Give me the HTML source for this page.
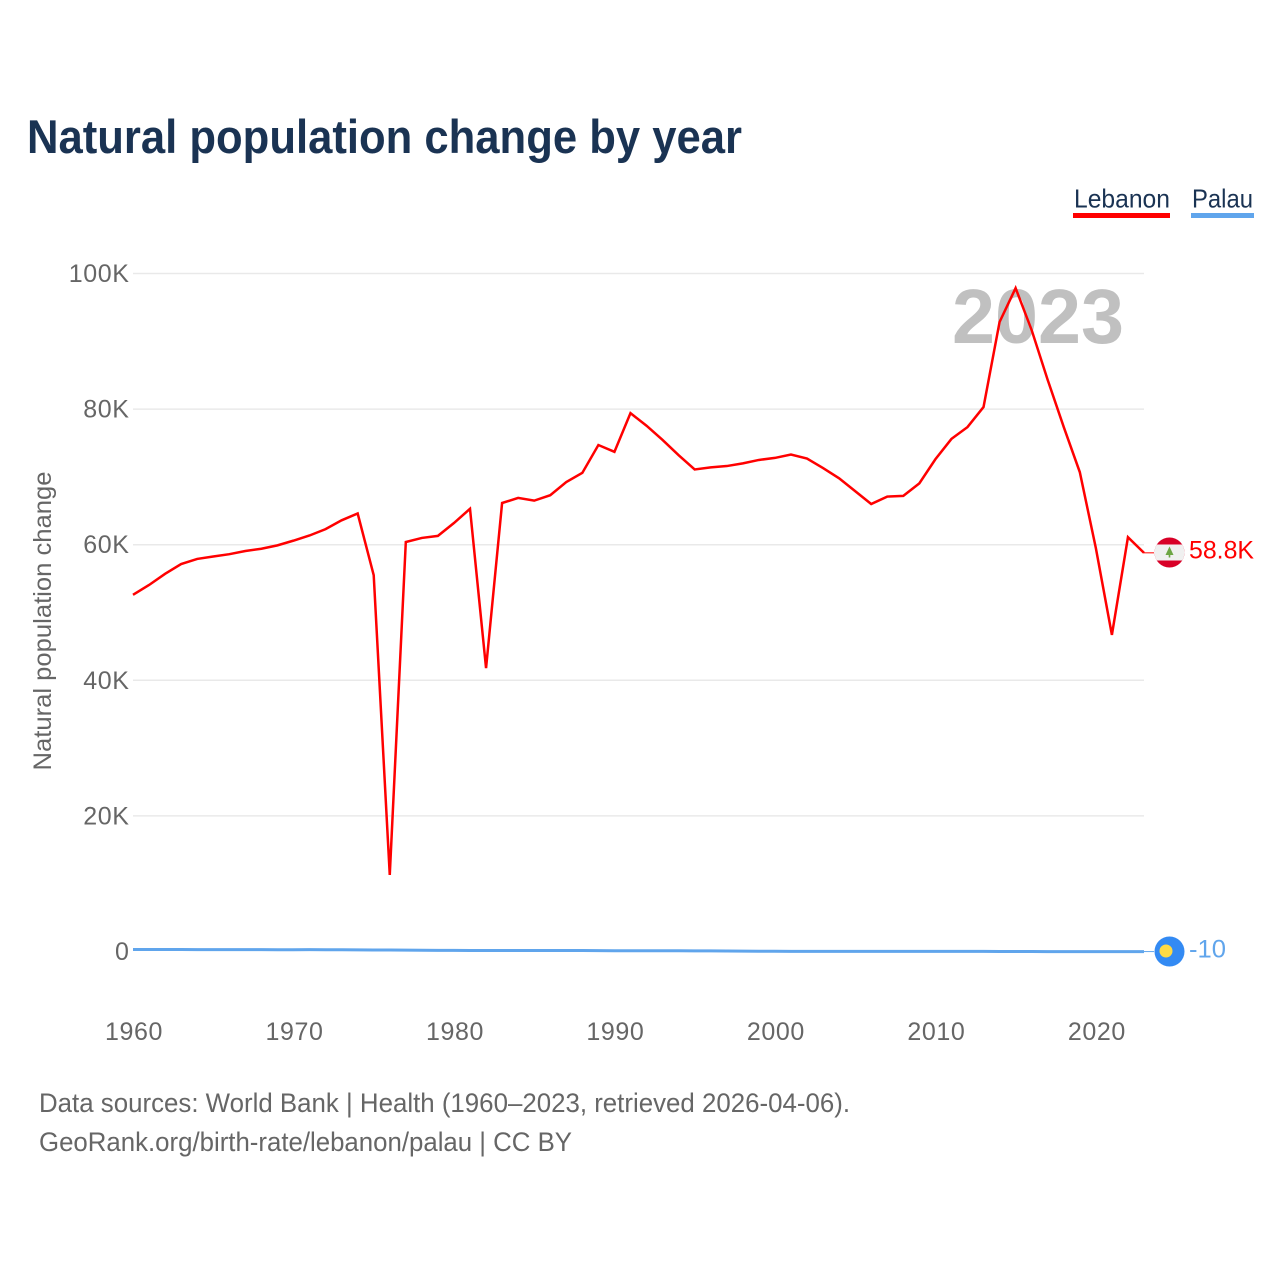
<!DOCTYPE html>
<html lang="en">
<head>
<meta charset="utf-8">
<title>Natural population change by year</title>
<style>
html,body{margin:0;padding:0;background:#fff;width:1280px;height:1280px;overflow:hidden}
svg{display:block}
text{font-family:"Liberation Sans",sans-serif}
</style>
</head>
<body>
<svg id="chart" width="1280" height="1280" viewBox="0 0 1280 1280" xmlns="http://www.w3.org/2000/svg">
  <text x="27" y="153" font-size="47" font-weight="700" fill="#1a3353" textLength="715" lengthAdjust="spacingAndGlyphs">Natural population change by year</text>

  <g>
    <g>
      <text x="1074" y="207.5" font-size="26" fill="#1a3353" textLength="96" lengthAdjust="spacingAndGlyphs">Lebanon</text>
      <rect x="1073" y="213" width="97" height="5" fill="#ff0000"/>
    </g>
    <g>
      <text x="1192" y="207.5" font-size="26" fill="#1a3353" textLength="61" lengthAdjust="spacingAndGlyphs">Palau</text>
      <rect x="1191" y="213" width="63" height="5" fill="#60a5ec"/>
    </g>
  </g>

  <g id="grid"></g>
  <g id="y-ticks"></g>
  <g id="x-ticks"></g>

  <text transform="translate(51 621) rotate(-90)" text-anchor="middle" font-size="25" fill="#666666" textLength="299" lengthAdjust="spacingAndGlyphs">Natural population change</text>

  <text x="952" y="343" font-size="77" font-weight="700" fill="#c0c0c0" textLength="172" lengthAdjust="spacingAndGlyphs">2023</text>

  <g id="series"></g>

  <g id="flag-lebanon">
    <clipPath id="lb-clip"><circle cx="1169.5" cy="552.5" r="15"/></clipPath>
    <g clip-path="url(#lb-clip)">
      <rect x="1154" y="537" width="31" height="31" fill="#d80027"/>
      <rect x="1154" y="544.5" width="31" height="16" fill="#f0f0f0"/>
    </g>
    <polygon points="1169.5,546.5 1173.5,555 1165.5,555" fill="#6da544"/>
    <rect x="1168.7" y="555" width="1.6" height="2.5" fill="#6da544"/>
  </g>
  <g id="flag-palau">
    <circle cx="1169.5" cy="951.5" r="15" fill="#338af3"/>
    <circle cx="1166" cy="951" r="6.5" fill="#ffda44"/>
  </g>

  <text x="1189" y="558.5" font-size="25" fill="#ff0000" textLength="65" lengthAdjust="spacingAndGlyphs">58.8K</text>
  <text x="1189" y="957.5" font-size="25" fill="#60a5ec" textLength="37" lengthAdjust="spacingAndGlyphs">-10</text>

  <text x="39" y="1112" font-size="26.5" fill="#666666" textLength="811" lengthAdjust="spacingAndGlyphs">Data sources: World Bank | Health (1960–2023, retrieved 2026-04-06).</text>
  <text x="39" y="1151" font-size="26.5" fill="#666666" textLength="533" lengthAdjust="spacingAndGlyphs">GeoRank.org/birth-rate/lebanon/palau | CC BY</text>
</svg>
<script>
const years = [1960,1961,1962,1963,1964,1965,1966,1967,1968,1969,1970,1971,1972,1973,1974,1975,1976,1977,1978,1979,1980,1981,1982,1983,1984,1985,1986,1987,1988,1989,1990,1991,1992,1993,1994,1995,1996,1997,1998,1999,2000,2001,2002,2003,2004,2005,2006,2007,2008,2009,2010,2011,2012,2013,2014,2015,2016,2017,2018,2019,2020,2021,2022,2023];
const lebanonValues = [52600,54060,55700,57150,57900,58260,58600,59070,59400,59900,60600,61360,62300,63600,64600,55500,11300,60400,61000,61300,63200,65300,41800,66150,66900,66500,67300,69250,70600,74700,73700,79400,77550,75450,73200,71100,71400,71600,72000,72500,72800,73300,72700,71300,69800,67900,66000,67100,67200,69050,72600,75600,77350,80300,92850,97850,91650,84300,77350,70700,59500,46700,61100,58800];
const palauValues = [300,300,300,290,280,280,270,270,270,260,260,270,260,250,240,230,220,210,190,170,160,150,150,150,150,140,140,140,140,130,120,110,110,120,120,100,90,70,50,30,30,20,20,20,20,10,10,10,10,10,10,10,10,10,0,0,0,-10,-10,-10,-20,-20,-20,-10];
const yTickValues = [0,20000,40000,60000,80000,100000];
const yTickLabels = ["0","20K","40K","60K","80K","100K"];
const xTickYears = [1960,1970,1980,1990,2000,2010,2020];

const NS = "http://www.w3.org/2000/svg";
const xScale = function (year) { return 133 + (year - 1960) * (1011 / 63); };
const yScale = function (value) { return 951.5 - value * (678 / 100000); };

const gridGroup = document.getElementById("grid");
const yTickGroup = document.getElementById("y-ticks");
const xTickGroup = document.getElementById("x-ticks");
const seriesGroup = document.getElementById("series");

yTickValues.forEach(function (value, i) {
  if (value !== 0) {
    const line = document.createElementNS(NS, "line");
    
    
    line.setAttribute("x1", 133);
    line.setAttribute("x2", 1144);
    line.setAttribute("y1", yScale(value));
    line.setAttribute("y2", yScale(value));
    line.setAttribute("stroke", "#e9e9e9");
    line.setAttribute("stroke-width", "1.5");
    gridGroup.appendChild(line);
  }
  const label = document.createElementNS(NS, "text");
  
  
  label.setAttribute("x", 129.5);
  label.setAttribute("y", yScale(value) + 8.5);
  label.setAttribute("text-anchor", "end");
  label.setAttribute("font-size", "25");
  label.setAttribute("letter-spacing", "0.6");
  label.setAttribute("fill", "#666666");
  label.textContent = yTickLabels[i];
  yTickGroup.appendChild(label);
});

xTickYears.forEach(function (year) {
  const label = document.createElementNS(NS, "text");
  
  
  label.setAttribute("x", xScale(year) + 1);
  label.setAttribute("y", 1040);
  label.setAttribute("text-anchor", "middle");
  label.setAttribute("font-size", "25");
  label.setAttribute("letter-spacing", "0.6");
  label.setAttribute("fill", "#666666");
  label.textContent = String(year);
  xTickGroup.appendChild(label);
});

function drawSeries(values, color, name, width) {
  const points = values.map(function (value, i) {
    return xScale(years[i]).toFixed(2) + "," + yScale(value).toFixed(2);
  }).join(" ");
  const line = document.createElementNS(NS, "polyline");
  
  
  line.setAttribute("points", points);
  line.setAttribute("fill", "none");
  line.setAttribute("stroke", color);
  line.setAttribute("stroke-width", width);
  line.setAttribute("stroke-linejoin", "miter");
  seriesGroup.appendChild(line);

  const lastY = yScale(values[values.length - 1]);
  const connector = document.createElementNS(NS, "line");
  
  
  connector.setAttribute("x1", xScale(years[years.length - 1]));
  connector.setAttribute("x2", 1154);
  connector.setAttribute("y1", lastY);
  connector.setAttribute("y2", lastY);
  connector.setAttribute("stroke", color);
  connector.setAttribute("stroke-width", "1");
  seriesGroup.appendChild(connector);
}

drawSeries(palauValues, "#60a5ec", "palau-line", "3");
drawSeries(lebanonValues, "#ff0000", "lebanon-line", "2.5");
</script>
</body>
</html>
